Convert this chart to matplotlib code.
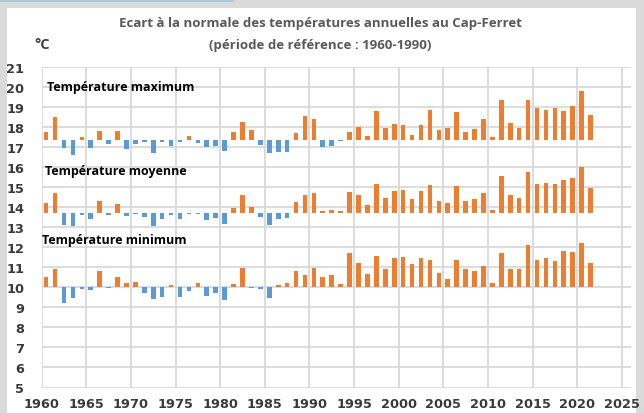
import matplotlib
matplotlib.use("Agg")
import matplotlib.pyplot as plt
from matplotlib.patches import Rectangle

# ---------------- data ----------------
years = list(range(1960, 2022))

normal_max = 17.36
normal_moy = 13.715
normal_min = 10.03

t_max = [17.78, 18.51, 16.96, 16.63, 17.51, 16.96, 17.81, 17.18, 17.81, 16.90,
         17.15, 17.25, 16.70, 17.28, 17.08, 17.26, 17.56, 17.23, 17.01, 17.05,
         16.80, 17.78, 18.28, 17.88, 17.11, 16.73, 16.76, 16.78, 17.71, 18.58,
         18.41, 17.03, 17.06, 17.33, 17.76, 18.03, 17.56, 18.80, 17.95, 18.16,
         18.13, 17.63, 18.11, 18.86, 17.85, 17.95, 18.75, 17.78, 17.91, 18.40,
         17.53, 19.38, 18.21, 17.96, 19.38, 18.95, 18.86, 18.95, 18.81, 19.06,
         19.80, 18.61]

t_moy = [14.20, 14.73, 13.13, 13.07, 13.63, 13.42, 14.32, 13.62, 14.17, 13.55,
         13.68, 13.50, 13.08, 13.42, 13.63, 13.42, 13.69, 13.69, 13.35, 13.45,
         13.15, 13.98, 14.63, 14.02, 13.53, 13.13, 13.43, 13.48, 14.27, 14.60,
         14.72, 13.82, 13.87, 13.80, 14.75, 14.63, 14.13, 15.17, 14.45, 14.82,
         14.85, 14.40, 14.80, 15.12, 14.30, 14.20, 15.07, 14.33, 14.40, 14.73,
         13.88, 15.57, 14.60, 14.45, 15.77, 15.17, 15.20, 15.17, 15.35, 15.45,
         16.03, 14.95]

t_min = [10.52, 10.90, 9.22, 9.45, 9.90, 9.85, 10.82, 9.98, 10.50, 10.20,
         10.25, 9.70, 9.43, 9.53, 10.12, 9.53, 9.82, 10.20, 9.58, 9.72,
         9.38, 10.16, 10.95, 9.95, 9.92, 9.47, 10.12, 10.20, 10.80, 10.60,
         10.98, 10.52, 10.60, 10.18, 11.70, 11.20, 10.68, 11.55, 10.93, 11.45,
         11.52, 11.15, 11.45, 11.38, 10.73, 10.42, 11.35, 10.90, 10.83, 11.05,
         10.22, 11.73, 10.93, 10.93, 12.12, 11.35, 11.48, 11.33, 11.83, 11.77,
         12.22, 11.23]

series = [("Température maximum", t_max, normal_max),
          ("Température moyenne", t_moy, normal_moy),
          ("Température minimum", t_min, normal_min)]

y_ticks = list(range(5, 22))
x_ticks = list(range(1960, 2030, 5))

# ---------------- style ----------------
ORANGE = "#ED7D31"
BLUE = "#5B9BD5"
GRID = "#D9D9D9"
FONT = ["Open Sans", "DejaVu Sans"]
TICKFONT = ["DejaVu Sans"]

W, H = 644, 414
fig = plt.figure(figsize=(W / 100, H / 100), dpi=100)
fig.patch.set_facecolor("#DADADA")
fig.patches.append(Rectangle((0, 1 - 3 / H), 234 / W, 3 / H, transform=fig.transFigure,
                             facecolor="#A9CCD6", edgecolor="none", zorder=-10))
fig.patches.append(Rectangle((7 / W, 0), 629 / W, 1 - 9 / H, transform=fig.transFigure,
                             facecolor="white", edgecolor="none", zorder=-10))

left, right, top, bottom = 41.7, 630.7, 68.3, 388.5
ax = fig.add_axes([left / W, 1 - bottom / H, (right - left) / W, (bottom - top) / H])
ax.set_facecolor("none")
ax.set_zorder(5)

for label, vals, base in series:
    x = [y + 0.5 for y in years]
    h = [v - base for v in vals]
    cols = [ORANGE if d >= 0 else BLUE for d in h]
    ax.bar(x, h, bottom=base, width=0.52, color=cols, zorder=3, linewidth=0)

ax.set_xlim(1960, 2026)
ax.set_ylim(5, 21)
ax.set_xticks(x_ticks)
ax.set_yticks(y_ticks)
ax.grid(True, color=GRID, linewidth=1.3, zorder=0)
ax.set_axisbelow(True)
for s in ax.spines.values():
    s.set_visible(False)
ax.tick_params(length=0, labelsize=9.3, labelcolor="#3A3A3A")
ax.tick_params(axis="y", pad=12.5)
ax.tick_params(axis="x", pad=6.5)
for t in ax.get_xticklabels() + ax.get_yticklabels():
    t.set_fontweight("bold")
    t.set_family(TICKFONT)

# series labels
label_pos = [(47, 87), (45, 172), (42, 241)]
for (label, _, _), (px, py) in zip(series, label_pos):
    fig.text(px / W, 1 - py / H, label, ha="left", va="center", fontsize=9,
             fontweight="bold", color="black", family=FONT, zorder=10)

fig.text(320 / W, 1 - 23 / H, "Ecart à la normale des températures annuelles au Cap-Ferret",
         ha="center", va="center", fontsize=9.5, fontweight="bold", color="#595959", family=FONT)
fig.text(320 / W, 1 - 45 / H, "(période de référence : 1960-1990)",
         ha="center", va="center", fontsize=9.5, fontweight="bold", color="#595959", family=FONT)
fig.text(42.5 / W, 1 - 45 / H, "°C", ha="center", va="center", fontsize=10.5,
         fontweight="bold", color="#404040", family=FONT)

fig.savefig("out.png", dpi=100, facecolor=fig.get_facecolor())
